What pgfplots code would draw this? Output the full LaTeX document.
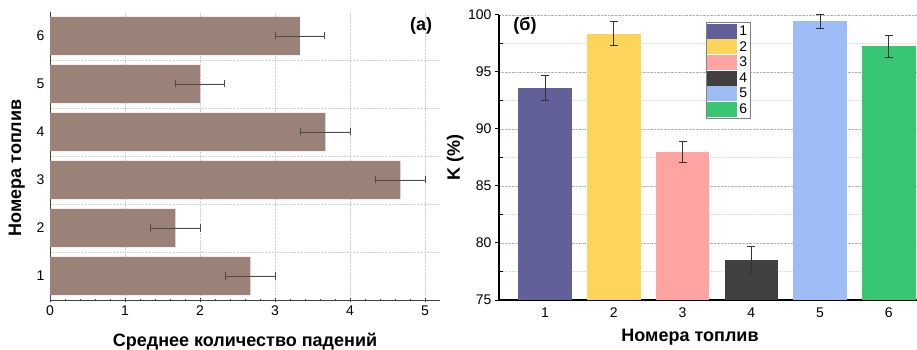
\documentclass[border=0pt]{standalone}
\usepackage{pgfplots}
\pgfplotsset{compat=1.18}
\usepackage{fontspec}
\setmainfont{Liberation Sans}
\definecolor{barbrown}{HTML}{9A8279}
\definecolor{c1}{HTML}{626099}
\definecolor{c2}{HTML}{FFD45A}
\definecolor{c3}{HTML}{FFA3A3}
\definecolor{c4}{HTML}{404040}
\definecolor{c5}{HTML}{9DBBF4}
\definecolor{c6}{HTML}{38C672}
\newcommand{\tickfont}{\fontsize{14bp}{16bp}\selectfont}
\newcommand{\labfont}{\bfseries\fontsize{18bp}{21bp}\selectfont}
\begin{document}
\begin{tikzpicture}
\useasboundingbox (0,0) rectangle (917bp,350bp);
% ---------- (a) ----------
\begin{axis}[
  at={(50bp,50bp)}, anchor=south west, scale only axis,
  width=390bp, height=288bp,
  xmin=0, xmax=5.2, ymin=0.5, ymax=6.5,
  axis x line*=bottom, axis y line*=left,
  axis line style={line width=1bp, black!75},
  xtick={0,...,5}, ytick={1,...,6},
  minor x tick num=4,
  minor ytick={1.5,2.5,...,5.5},
  xmajorgrids, yminorgrids,
  major grid style={densely dotted, gray!35},
  minor grid style={densely dotted, gray!35},
  major y tick style={draw=none}, minor y tick style={draw=none},
  tick align=center, major tick length=4bp, minor tick length=2.5bp,
  x tick style={black!75, line width=0.8bp},
  /pgf/number format/assume math mode=true,
  xticklabel style={font=\tickfont}, yticklabel style={font=\tickfont},
  xlabel={Среднее количество падений},
  ylabel={Номера топлив},
  xlabel style={font=\labfont, at={(axis description cs:0.5,-0.146)}, anchor=center},
  ylabel style={font=\labfont, at={(axis description cs:-0.085,0.458)}, anchor=center},
]
\addplot[xbar, bar width=0.8, fill=barbrown, draw=none,
  error bars/.cd, x dir=both, x explicit, error mark=|,
  error bar style={line width=0.8bp, draw=black!70},
  error mark options={mark size=3.5bp, line width=0.8bp, draw=black!70}]
  table[x=x, y=y, x error=e] {
  y x e
  1 2.67 0.33
  2 1.67 0.33
  3 4.67 0.33
  4 3.67 0.33
  5 2.00 0.33
  6 3.33 0.33
};
\end{axis}
\node[font=\labfont] at (421bp,324bp) {(a)};
% ---------- (б) ----------
\begin{axis}[
  at={(499bp,50bp)}, anchor=south west, scale only axis,
  width=418bp, height=285bp,
  xmin=0.33, xmax=6.41, ymin=75, ymax=100,
  axis x line*=bottom, axis y line*=left,
  axis line style={line width=1.2bp, black},
  xtick={1,...,6}, ytick={75,80,...,100},
  minor ytick={77.5,82.5,...,97.5},
  major x tick style={draw=none},
  ymajorgrids, yminorgrids,
  major grid style={densely dotted, gray!60},
  minor grid style={densely dotted, gray!25},
  tick align=outside, major tick length=4bp, minor tick length=4bp,
  y tick style={black, line width=1bp},
  minor y tick style={xshift=4bp},
  /pgf/number format/assume math mode=true,
  xticklabel style={font=\tickfont}, yticklabel style={font=\tickfont},
  xlabel={Номера топлив},
  ylabel={K (\%)},
  xlabel style={font=\labfont, at={(axis description cs:0.457,-0.13)}, anchor=center},
  ylabel style={font=\labfont, at={(axis description cs:-0.105,0.5)}, anchor=center},
  legend image code/.code={\fill[#1] (0bp,-7.5bp) rectangle (30bp,7.5bp);},
  legend style={at={(axis description cs:0.495,0.975)}, anchor=north west,
    draw=gray, line width=1bp, inner sep=1bp, row sep=0.5bp,
    font=\tickfont, cells={anchor=west},
    /tikz/every even column/.append style={column sep=2bp}},
  bstyle/.style={ybar, bar width=0.78, bar shift=0pt, draw=none,
    error bars/y dir=both, error bars/y explicit,
    error bars/error bar style={line width=0.8bp, black!80},
    error bars/error mark options={rotate=90, mark size=4bp, line width=0.8bp, black!80}},
]
\addplot[bstyle, fill=c1] coordinates {(1,93.6) +- (0,1.1)};
\addlegendentry{1}
\addplot[bstyle, fill=c2] coordinates {(2,98.35) +- (0,1.05)};
\addlegendentry{2}
\addplot[bstyle, fill=c3] coordinates {(3,88.0) +- (0,0.9)};
\addlegendentry{3}
\addplot[bstyle, fill=c4] coordinates {(4,78.5) +- (0,1.2)};
\addlegendentry{4}
\addplot[bstyle, fill=c5] coordinates {(5,99.45) +- (0,0.6)};
\addlegendentry{5}
\addplot[bstyle, fill=c6] coordinates {(6,97.25) +- (0,0.95)};
\addlegendentry{6}
\end{axis}
\node[font=\labfont] at (525bp,324bp) {(б)};
\end{tikzpicture}
\end{document}
